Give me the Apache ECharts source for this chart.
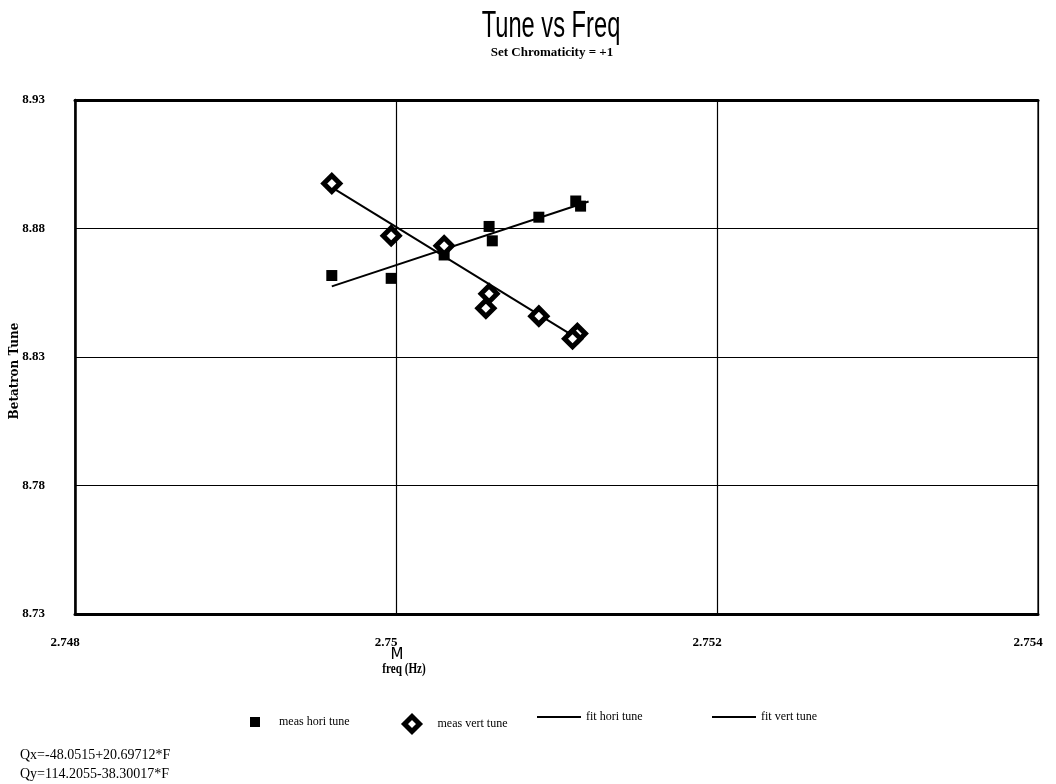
<!DOCTYPE html>
<html>
<head>
<meta charset="utf-8">
<script src="https://cdn.jsdelivr.net/npm/echarts@6/dist/echarts.min.js"></script>
<style>
  html, body { margin: 0; padding: 0; background: #fff; }
  #chart { width: 1056px; height: 784px; }
</style>
</head>
<body>
<div id="chart"></div>
<script>
var horiFreq = [2.7496, 2.74997, 2.7503, 2.75058, 2.7506, 2.75089, 2.75112, 2.75115];
var horiTune = [8.8617, 8.8606, 8.8697, 8.8808, 8.8752, 8.8844, 8.8907, 8.8887];
var vertFreq = [2.7496, 2.74997, 2.7503, 2.75058, 2.75056, 2.75089, 2.75113, 2.7511];
var vertTune = [8.8975, 8.8772, 8.8733, 8.8546, 8.8490, 8.8459, 8.8391, 8.8371];
// fit line end points
var fitHoriFreq = [2.7496, 2.7512];
var fitHoriTune = [8.8575, 8.8905];
var fitVertFreq = [2.7496, 2.75115];
var fitVertTune = [8.8960, 8.8365];

var xTicks = { min: 2.748, max: 2.754, step: 0.002 };
var yTicks = { min: 8.73, max: 8.93, step: 0.05 };
var equations = ['Qx=-48.0515+20.69712*F', 'Qy=114.2055-38.30017*F'];

// y axis counts ticks from its min, so plot tune relative to 8.73
function pairs(fs, qs) {
    return fs.map(function (f, i) { return [f, +(qs[i] - yTicks.min).toFixed(5)]; });
}

var serif = "'Liberation Serif', 'DejaVu Serif', serif";
var sans = "'Liberation Sans', Arial, sans-serif";
var lineIcon = 'path://M0,18 L40,18 L40,20 L0,20 Z';
var labelStyle = { color: '#000', fontFamily: serif, fontSize: 13, fontWeight: 'bold' };

var chart = echarts.init(document.getElementById('chart'));
chart.setOption({
    animation: false,
    backgroundColor: '#fff',
    grid: {
        left: 75, right: 18, top: 100, bottom: 170,
        outerBoundsMode: 'none',
        show: true, borderColor: '#000', borderWidth: 1.2
    },
    xAxis: [
        {
            type: 'value',
            min: xTicks.min, max: xTicks.max, interval: xTicks.step,
            axisLine: { show: true, lineStyle: { color: '#000', width: 3 } },
            axisTick: { show: false },
            splitLine: { show: true, lineStyle: { color: '#000', width: 1.2 } },
            axisLabel: Object.assign({
                margin: 22, padding: [0, 20, 0, 0],
                formatter: function (v) { return String(+v.toFixed(3)); }
            }, labelStyle)
        },
        {
            // heavy top edge of the frame
            type: 'value', position: 'top',
            min: xTicks.min, max: xTicks.max, interval: xTicks.step,
            axisLine: { show: true, lineStyle: { color: '#000', width: 3 } },
            axisTick: { show: false }, axisLabel: { show: false }, splitLine: { show: false }
        }
    ],
    yAxis: {
        type: 'value',
        min: 0, max: +(yTicks.max - yTicks.min).toFixed(2), interval: yTicks.step,
        name: 'Betatron Tune',
        nameLocation: 'middle',
        nameGap: 54,
        nameMoveOverlap: false,
        nameTextStyle: { fontFamily: "'DejaVu Serif', serif", fontWeight: 'bold', fontSize: 12, color: '#000', padding: [0, 0, 0, -28] },
        axisLine: { show: true, lineStyle: { color: '#000', width: 2.5 } },
        axisTick: { show: false },
        splitLine: { show: true, lineStyle: { color: '#000', width: 1.2 } },
        axisLabel: Object.assign({ margin: 30, formatter: function (v) { return (yTicks.min + v).toFixed(2); } }, labelStyle)
    },
    legend: [
        {
            data: ['meas hori tune'], left: 245, top: 711, itemWidth: 10, itemHeight: 10,
            textStyle: { fontFamily: serif, fontSize: 12, color: '#000', padding: [0, 0, 0, 14] }
        },
        {
            data: [{ name: 'meas vert tune', itemStyle: { borderWidth: 5 } }], left: 397, top: 709,
            itemWidth: 15, itemHeight: 15,
            textStyle: { fontFamily: serif, fontSize: 12, color: '#000', padding: [0, 0, 0, 13] }
        },
        {
            data: [{ name: 'fit hori tune', icon: lineIcon }], left: 532, top: 706,
            itemWidth: 44, itemHeight: 20,
            textStyle: { fontFamily: serif, fontSize: 12, color: '#000' }
        },
        {
            data: [{ name: 'fit vert tune', icon: lineIcon }], left: 707, top: 706,
            itemWidth: 44, itemHeight: 20,
            textStyle: { fontFamily: serif, fontSize: 12, color: '#000' }
        }
    ],
    graphic: [
        {
            type: 'text', x: 551, y: 27, scaleX: 0.64,
            style: { text: 'Tune vs Freq', fontFamily: sans, fontSize: 37, fill: '#000', align: 'center', verticalAlign: 'middle' }
        },
        {
            type: 'text', x: 552, y: 53,
            style: { text: 'Set Chromaticity = +1', fontFamily: serif, fontSize: 13, fontWeight: 'bold', fill: '#000', align: 'center', verticalAlign: 'middle' }
        },
        {
            type: 'text', x: 397, y: 655,
            style: { text: 'M', fontFamily: "'DejaVu Sans', sans-serif", fontSize: 15, fill: '#000', align: 'center', verticalAlign: 'middle' }
        },
        {
            type: 'text', x: 404, y: 669, scaleX: 0.8,
            style: { text: 'freq (Hz)', fontFamily: serif, fontSize: 14, fontWeight: 'bold', fill: '#000', align: 'center', verticalAlign: 'middle' }
        },
        {
            type: 'text', left: 20, top: 748,
            style: { text: equations[0], fontFamily: serif, fontSize: 14, fill: '#000' }
        },
        {
            type: 'text', left: 20, top: 767,
            style: { text: equations[1], fontFamily: serif, fontSize: 14, fill: '#000' }
        }
    ],
    series: [
        {
            name: 'fit hori tune', type: 'line', data: pairs(fitHoriFreq, fitHoriTune),
            symbol: 'none', lineStyle: { color: '#000', width: 2 }, itemStyle: { color: '#000' }, z: 2
        },
        {
            name: 'fit vert tune', type: 'line', data: pairs(fitVertFreq, fitVertTune),
            symbol: 'none', lineStyle: { color: '#000', width: 2 }, itemStyle: { color: '#000' }, z: 2
        },
        {
            name: 'meas hori tune', type: 'scatter', data: pairs(horiFreq, horiTune),
            symbol: 'rect', symbolSize: 11, itemStyle: { color: '#000', opacity: 1 }, z: 3
        },
        {
            name: 'meas vert tune', type: 'scatter', data: pairs(vertFreq, vertTune),
            symbol: 'diamond', symbolSize: 16,
            itemStyle: { color: '#fff', borderColor: '#000', borderWidth: 5, opacity: 1 }, z: 4
        }
    ]
});
</script>
</body>
</html>
